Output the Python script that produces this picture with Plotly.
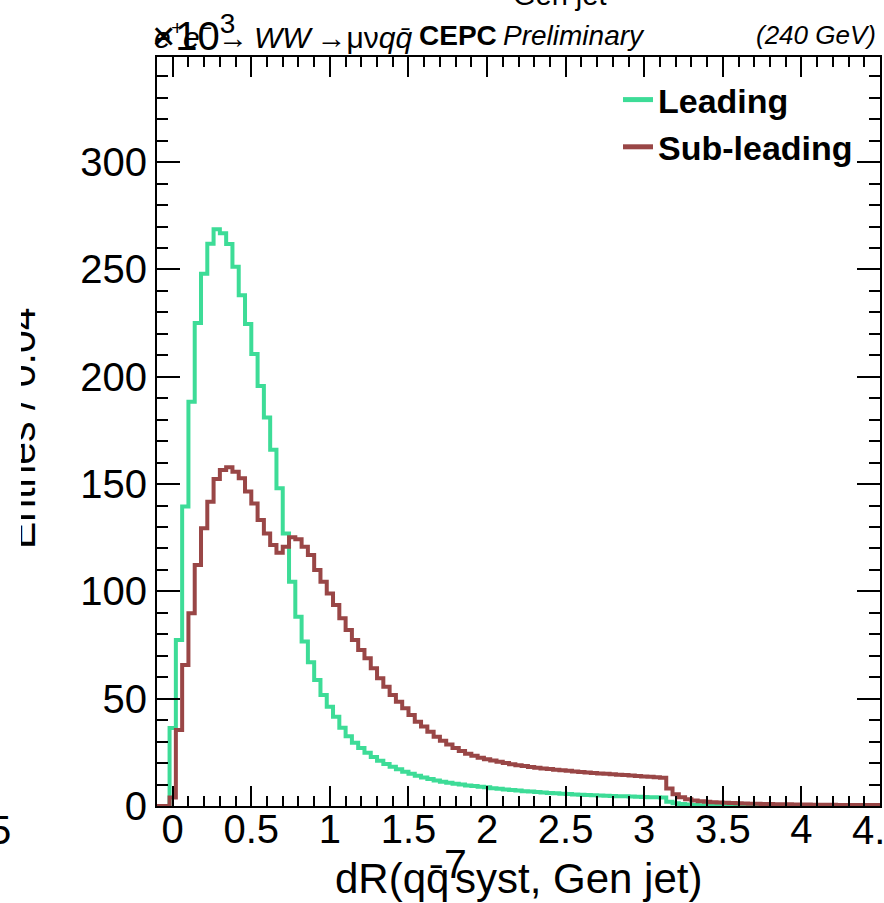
import numpy as np
import plotly.graph_objects as go

# ---------------- data (units of 10^3 entries, bin width 0.04) ----------------
bin_low = -0.1
bin_width = 0.04
n_bins = 115

leading = [
    0, 0, 36.3, 77.4, 139.5, 188.4, 225, 248, 262, 268.7,
    266.9, 261.9, 251.3, 238, 224.6, 210.6, 195.7, 181, 166, 148,
    127, 104.5, 88.2, 76.6, 67, 58.7, 51.7, 46.3, 41.6, 36.5,
    32.5, 29.5, 27, 24.8, 22.8, 21.1, 19.6, 18.3, 17.1, 16.0,
    15.0, 14.1, 13.3, 12.6, 11.9, 11.3, 10.8, 10.4, 10.0, 9.6,
    9.3, 9.0, 8.7, 8.3, 8.0, 7.7, 7.4, 7.2, 6.9, 6.7,
    6.5, 6.3, 6.1, 5.9, 5.7, 5.6, 5.4, 5.3, 5.1, 5.0,
    4.9, 4.8, 4.7, 4.6, 4.5, 4.4, 4.3, 4.2, 4.1, 4.1,
    4.0, 2.0, 1.3, 0.9, 0.7, 0.5, 0.4, 0.35, 0.3, 0.25,
    0.2, 0.2, 0.15, 0.15, 0.1, 0.1, 0.1, 0.08, 0.08, 0.06,
    0.06, 0.05, 0.05, 0.04, 0.04, 0.03, 0.03, 0.03, 0.02, 0.02,
    0.02, 0.01, 0.01, 0.01, 0.01,
]

subleading = [
    0, 0, 4.0, 35.4, 65.7, 89.8, 112.3, 129.4, 141.8, 152.4,
    156.6, 157.8, 155.8, 152.7, 146.5, 141, 133.3, 127, 121.6, 118,
    120.8, 125.2, 124.3, 120.8, 117, 110, 104.5, 99, 93.7, 87.5,
    82, 77.4, 72.7, 68.8, 64.2, 59.5, 55.6, 51.7, 48.6, 45.5,
    42.4, 39.3, 37, 34.6, 32.3, 30.4, 28.6, 27.0, 25.6, 24.4,
    23.4, 22.5, 21.8, 21.2, 20.6, 20.0, 19.5, 19.0, 18.6, 18.2,
    17.8, 17.5, 17.2, 16.9, 16.7, 16.4, 16.1, 15.9, 15.6, 15.4,
    15.2, 15.0, 14.8, 14.6, 14.4, 14.2, 14.0, 13.8, 13.6, 13.4,
    13.2, 8.2, 5.5, 4.1, 3.1, 2.6, 2.2, 2.0, 1.8, 1.6,
    1.5, 1.4, 1.3, 1.2, 1.1, 1.0, 0.9, 0.9, 0.8, 0.8,
    0.8, 0.7, 0.7, 0.7, 0.6, 0.6, 0.6, 0.6, 0.5, 0.5,
    0.5, 0.5, 0.5, 0.5, 0.5,
]

series_names = ["Leading", "Sub-leading"]
series_colors = ["#3ddc97", "#994646"]

x_tick_vals = [0, 0.5, 1, 1.5, 2, 2.5, 3, 3.5, 4]
x_tick_text = ["0", "0.5", "1", "1.5", "2", "2.5", "3", "3.5", "4"]
x_edge_label = "4.5"
y_tick_vals = [0, 50, 100, 150, 200, 250, 300]
y_tick_text = ["0", "50", "100", "150", "200", "250", "300"]

# ---------------- figure ----------------
edges = np.round(bin_low + bin_width * np.arange(n_bins + 1), 4)
FONT = "Liberation Sans, Arial, Helvetica, sans-serif"

W, H = 884, 903
L, R, T, B = 157, 4, 57, 97
pw, ph = W - L - R, H - T - B


def px(x):
    return (x - L) / pw


def py(y):
    return (H - B - y) / ph


fig = go.Figure()
for name, vals, col in zip(series_names, [leading, subleading], series_colors):
    xs = list(edges)
    ys = list(vals) + [vals[-1]]
    fig.add_trace(go.Scatter(
        x=xs, y=ys, mode="lines", name=name,
        line=dict(color=col, width=4, shape="hv"),
        hoverinfo="skip",
    ))

axis_common = dict(
    showline=True, linecolor="black", linewidth=2, mirror="allticks",
    ticks="inside", tickcolor="black", tickwidth=1.5,
    showgrid=False, zeroline=False, automargin=False,
    tickfont=dict(family=FONT, size=40, color="black"),
)

fig.update_xaxes(
    range=[edges[0], edges[-1]],
    tickvals=x_tick_vals, ticktext=x_tick_text,
    ticklen=20, ticklabelstandoff=-13,
    minor=dict(dtick=0.1, tick0=0, ticks="inside", ticklen=10, tickwidth=1.5, tickcolor="black"),
    **axis_common,
)
fig.update_yaxes(
    range=[0, 349],
    tickvals=y_tick_vals, ticktext=y_tick_text,
    ticklen=23,
    minor=dict(dtick=10, tick0=0, ticks="inside", ticklen=11, tickwidth=1.5, tickcolor="black"),
    **axis_common,
)

ann = []
# label of the tick at the right edge of the axis (cut by the page edge)
ann.append(dict(text=x_edge_label, x=edges[-1], xref="x", y=py(830), xanchor="center",
                yanchor="middle", font=dict(family=FONT, size=40, color="black")))
# x-axis title (with the stray "7")
ann.append(dict(text="dR(qq\u0304", x=px(333), y=py(878), xanchor="left", yanchor="middle",
                font=dict(family=FONT, size=42, color="black")))
ann.append(dict(text="syst, Gen jet)", x=px(453), y=py(878), xanchor="left", yanchor="middle",
                font=dict(family=FONT, size=42, color="black")))
ann.append(dict(text="7", x=px(455), y=py(864), xanchor="center", yanchor="middle",
                font=dict(family=FONT, size=41, color="black")))
# y-axis title (partly clipped)
ann.append(dict(text="Entries / 0.04", textangle=-90, x=px(46), y=py(428), xanchor="right",
                yanchor="middle", font=dict(family=FONT, size=41, color="black")))
ann.append(dict(text="\u00a0", x=px(0), y=py(428), xanchor="left", yanchor="middle",
                width=21, height=330, bgcolor="white", borderpad=0, borderwidth=0,
                font=dict(size=10)))
# stray "5" at left edge
ann.append(dict(text="5", x=px(13), y=py(830), xanchor="right", yanchor="middle",
                font=dict(family=FONT, size=40, color="black")))
# top texts
ann.append(dict(text="Gen jet", x=px(560), y=py(-5), xanchor="center", yanchor="middle",
                font=dict(family=FONT, size=29, color="black")))
ann.append(dict(text="\u00d710<sup>3</sup>", x=px(150), y=py(33), xanchor="left", yanchor="middle",
                font=dict(family=FONT, size=40, color="black")))
ann.append(dict(text="<i>e<sup>+</sup>e<sup>\u2212</sup>\u2009\u2192\u2009WW\u2009\u2192</i>\u03bc\u03bd<i>qq\u0304</i>",
                x=px(152), y=py(35), xanchor="left", yanchor="middle",
                font=dict(family=FONT, size=30, color="black")))
ann.append(dict(text="<b>CEPC</b>", x=px(417), y=py(35), xanchor="left", yanchor="middle",
                font=dict(family=FONT, size=28, color="black")))
ann.append(dict(text="<i>Preliminary</i>", x=px(501), y=py(35), xanchor="left", yanchor="middle",
                font=dict(family=FONT, size=28, color="black")))
ann.append(dict(text="<i>(240 GeV)</i>", x=px(878), y=py(35), xanchor="right", yanchor="middle",
                font=dict(family=FONT, size=26, color="black")))
for a in ann:
    a.setdefault("xref", "paper")
    a.update(yref="paper", showarrow=False)

fig.update_layout(
    width=W, height=H,
    margin=dict(l=L, r=R, t=T, b=B, pad=0, autoexpand=False),
    paper_bgcolor="white", plot_bgcolor="white",
    annotations=ann,
    showlegend=True,
    legend=dict(
        x=px(618), y=py(71), xanchor="left", yanchor="top",
        bgcolor="rgba(0,0,0,0)", borderwidth=0,
        font=dict(family=FONT, size=34, color="black", weight="bold"),
        itemsizing="constant",
    ),
    font=dict(family=FONT, color="black"),
)

fig.write_html(
    "out.html",
    config={"displayModeBar": False},
    post_script="document.body.style.margin='0px';document.body.style.padding='0px';",
)
